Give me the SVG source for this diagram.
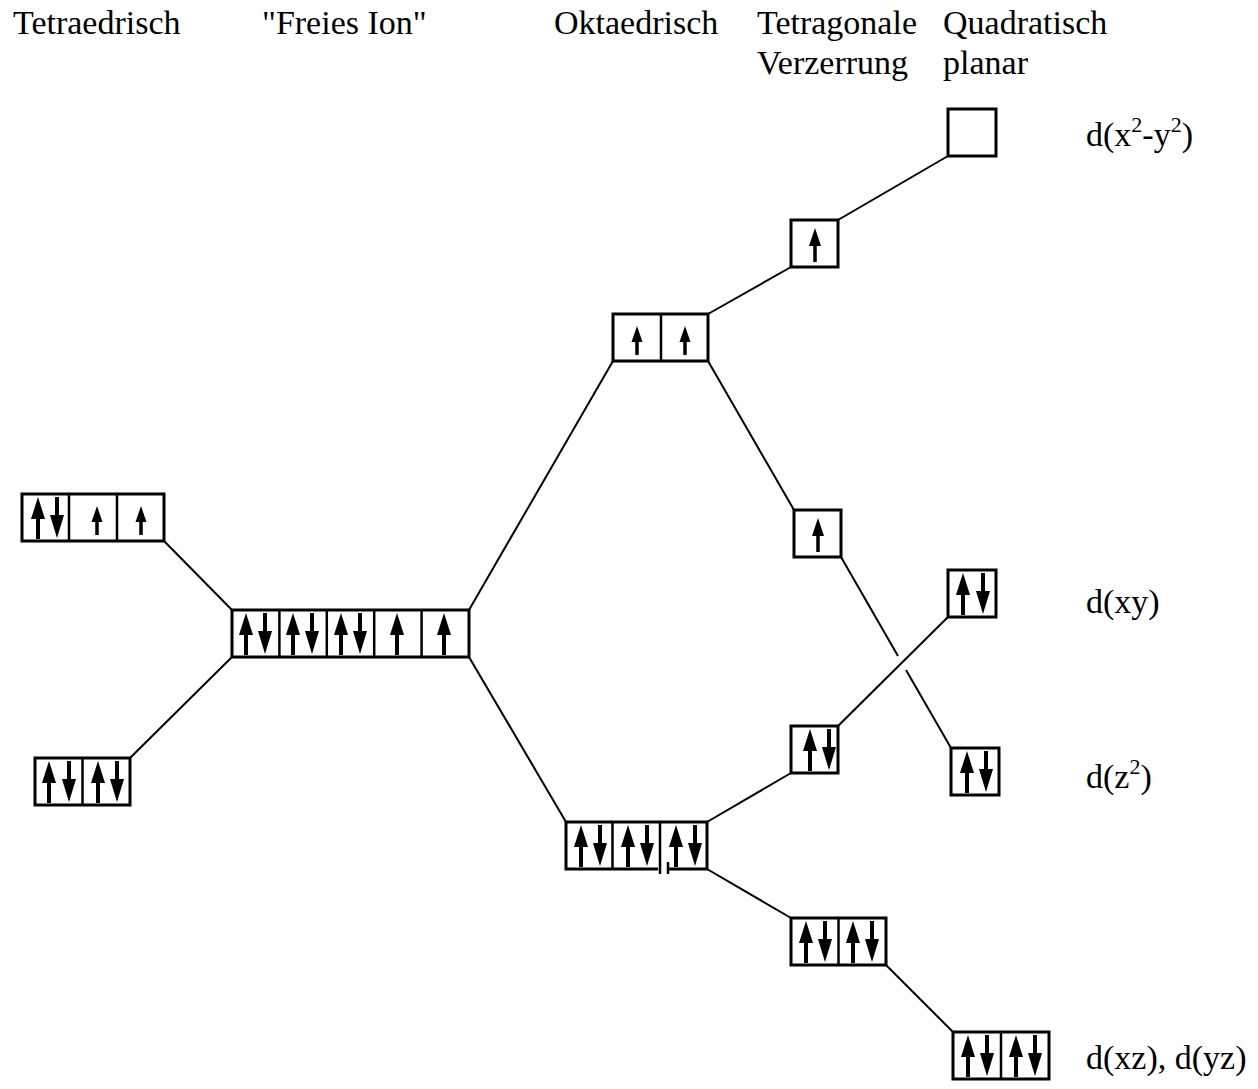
<svg xmlns="http://www.w3.org/2000/svg" width="1258" height="1089" viewBox="0 0 1258 1089">
<style>
  .box { fill: none; stroke: #000; stroke-width: 3; }
  .div { stroke: #000; stroke-width: 2.5; }
  .con line, .con polyline { stroke: #000; stroke-width: 2; fill: none; }
  text { font-family: "Liberation Serif", "Times New Roman", serif; font-size: 34px; fill: #000; }
  .sup { font-size: 22px; }
</style>
<defs>
  <g id="up"><polygon points="0,3 -7,25 7,25" fill="#000"/><rect x="-2" y="22" width="4" height="23" fill="#000"/></g>
  <g id="dn"><rect x="-2" y="3" width="4" height="21" fill="#000"/><polygon points="-7,21 7,21 0,44" fill="#000"/></g>
  <g id="su"><polygon points="0,12 -5.5,28 5.5,28" fill="#000"/><rect x="-1.75" y="26" width="3.5" height="15" fill="#000"/></g>
  <g id="sm"><polygon points="0,8 -6,26 6,26" fill="#000"/><rect x="-1.75" y="24" width="3.5" height="18" fill="#000"/></g>
</defs>
<rect width="1258" height="1089" fill="#fff"/>

<g id="labels">
  <text x="13" y="34">Tetraedrisch</text>
  <text x="262" y="34">"Freies Ion"</text>
  <text x="554" y="34">Oktaedrisch</text>
  <text x="757" y="34">Tetragonale</text>
  <text x="757" y="74">Verzerrung</text>
  <text x="943" y="34">Quadratisch</text>
  <text x="943" y="74">planar</text>
  <text x="1086" y="146">d(x<tspan class="sup" dy="-14">2</tspan><tspan dy="14">-y</tspan><tspan class="sup" dy="-14">2</tspan><tspan dy="14">)</tspan></text>
  <text x="1086" y="613">d(xy)</text>
  <text x="1086" y="788">d(z<tspan class="sup" dy="-14">2</tspan><tspan dy="14">)</tspan></text>
  <text x="1086" y="1069">d(xz), d(yz)</text>
</g>

<g id="connectors" class="con">
  <line x1="164" y1="541" x2="232" y2="610"/>
  <line x1="130" y1="758" x2="232" y2="657"/>
  <line x1="469" y1="610" x2="613" y2="361"/>
  <line x1="469" y1="657" x2="566" y2="822"/>
  <line x1="708" y1="314" x2="791" y2="267"/>
  <line x1="708" y1="361" x2="794" y2="510"/>
  <line x1="838" y1="220" x2="948" y2="156"/>
  <line x1="707" y1="822" x2="791" y2="773"/>
  <line x1="707" y1="869" x2="791" y2="918"/>
  <line x1="838" y1="726" x2="948" y2="617"/>
  <line x1="841" y1="557" x2="898" y2="656"/>
  <line x1="906" y1="670" x2="951" y2="748"/>
  <line x1="886" y1="965" x2="953" y2="1032"/>
</g>

<g id="tetra-top">
  <rect class="box" x="22" y="494" width="142" height="47"/>
  <line class="div" x1="69" y1="494" x2="69" y2="541"/>
  <line class="div" x1="117" y1="494" x2="117" y2="541"/>
  <use href="#up" x="38" y="494"/><use href="#dn" x="57" y="494"/>
  <use href="#su" x="97" y="494"/>
  <use href="#su" x="141" y="494"/>
</g>

<g id="tetra-bottom">
  <rect class="box" x="35" y="758" width="95" height="47"/>
  <line class="div" x1="82.5" y1="758" x2="82.5" y2="805"/>
  <use href="#up" x="49" y="758"/><use href="#dn" x="69" y="758"/>
  <use href="#up" x="98" y="758"/><use href="#dn" x="117" y="758"/>
</g>

<g id="free-ion">
  <rect class="box" x="232" y="610" width="237" height="47"/>
  <line class="div" x1="279.4" y1="610" x2="279.4" y2="657"/>
  <line class="div" x1="326.8" y1="610" x2="326.8" y2="657"/>
  <line class="div" x1="374.2" y1="610" x2="374.2" y2="657"/>
  <line class="div" x1="421.6" y1="610" x2="421.6" y2="657"/>
  <use href="#up" x="246" y="610"/><use href="#dn" x="265" y="610"/>
  <use href="#up" x="293" y="610"/><use href="#dn" x="312" y="610"/>
  <use href="#up" x="341" y="610"/><use href="#dn" x="360" y="610"/>
  <use href="#up" x="397" y="610"/>
  <use href="#up" x="444" y="610"/>
</g>

<g id="oct-eg">
  <rect class="box" x="613" y="314" width="95" height="47"/>
  <line class="div" x1="661" y1="314" x2="661" y2="361"/>
  <use href="#su" x="637" y="314"/>
  <use href="#su" x="685" y="314"/>
</g>

<g id="oct-t2g">
  <polyline class="box" points="658,869 566,869 566,822 707,822 707,869 668,869"/>
  <line class="div" x1="612.5" y1="822" x2="612.5" y2="869"/>
  <line class="div" x1="660" y1="822" x2="660" y2="874"/>
  <line class="div" x1="668" y1="862" x2="668" y2="874"/>
  <use href="#up" x="581" y="822"/><use href="#dn" x="600" y="822"/>
  <use href="#up" x="628" y="822"/><use href="#dn" x="647" y="822"/>
  <use href="#up" x="676" y="822"/><use href="#dn" x="695" y="822"/>
</g>

<g id="tetragonal-1">
  <rect class="box" x="791" y="220" width="47" height="47"/>
  <use href="#sm" x="815" y="220"/>
</g>

<g id="tetragonal-2">
  <rect class="box" x="794" y="510" width="47" height="47"/>
  <use href="#sm" x="818" y="510"/>
</g>

<g id="tetragonal-3">
  <rect class="box" x="791" y="726" width="47" height="47"/>
  <use href="#up" x="810" y="726"/><use href="#dn" x="829" y="726"/>
</g>

<g id="tetragonal-4">
  <rect class="box" x="791" y="918" width="95" height="47"/>
  <line class="div" x1="838.5" y1="918" x2="838.5" y2="965"/>
  <use href="#up" x="806" y="918"/><use href="#dn" x="825" y="918"/>
  <use href="#up" x="853" y="918"/><use href="#dn" x="872" y="918"/>
</g>

<g id="planar-x2y2">
  <rect class="box" x="948" y="109" width="48" height="47"/>
</g>

<g id="planar-xy">
  <rect class="box" x="948" y="570" width="48" height="47"/>
  <use href="#up" x="963" y="570"/><use href="#dn" x="983" y="570"/>
</g>

<g id="planar-z2">
  <rect class="box" x="951" y="748" width="48" height="47"/>
  <use href="#up" x="967" y="748"/><use href="#dn" x="986" y="748"/>
</g>

<g id="planar-xz-yz">
  <rect class="box" x="953" y="1032" width="96" height="47"/>
  <line class="div" x1="1001" y1="1032" x2="1001" y2="1079"/>
  <use href="#up" x="968" y="1032"/><use href="#dn" x="987" y="1032"/>
  <use href="#up" x="1016" y="1032"/><use href="#dn" x="1035" y="1032"/>
</g>
</svg>
